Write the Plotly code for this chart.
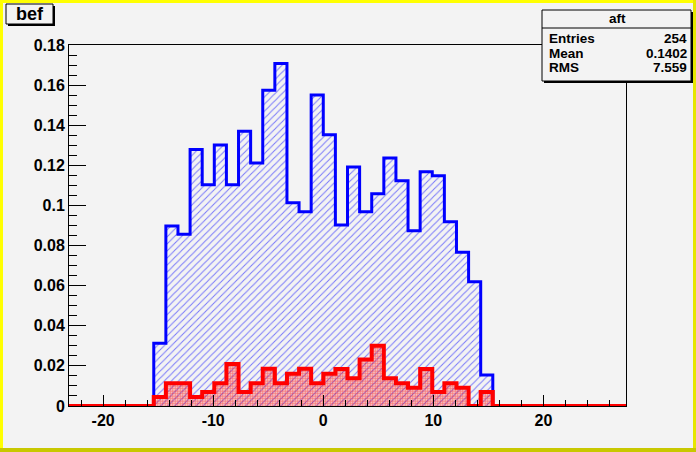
import plotly.graph_objects as go

# ---- data ----
x_min = -23.1
bin_width = 1.1
n_bins = 46
first_filled_bin = 7

bef_values = [0.0313, 0.0897, 0.0856, 0.1279, 0.1103, 0.1302, 0.1103, 0.1370,
              0.1212, 0.1575, 0.1708, 0.1013, 0.0968, 0.1551, 0.1353, 0.0902,
              0.1192, 0.0968, 0.1058, 0.1237, 0.1123, 0.0874, 0.1168, 0.1148,
              0.0919, 0.0766, 0.0620, 0.0154]
aft_values = [0.0045, 0.0113, 0.0113, 0.0045, 0.0070, 0.0113, 0.0209, 0.0070,
              0.0113, 0.0186, 0.0113, 0.0161, 0.0186, 0.0113, 0.0161, 0.0184,
              0.0138, 0.0232, 0.0300, 0.0138, 0.0114, 0.0091, 0.0184, 0.0070,
              0.0114, 0.0091, 0.0000, 0.0070]

x_tickvals = [-20, -10, 0, 10, 20]
x_ticktext = ["-20", "-10", "0", "10", "20"]
y_tickvals = [0, 0.02, 0.04, 0.06, 0.08, 0.10, 0.12, 0.14, 0.16, 0.18]
y_ticktext = ["0", "0.02", "0.04", "0.06", "0.08", "0.1", "0.12", "0.14", "0.16", "0.18"]

stats_title = "aft"
stats_labels = ["Entries", "Mean", "RMS"]
stats_values = ["254", "0.1402", "7.559"]
pad_title = "bef"

# ---- build full histogram contents ----
def full(vals):
    c = [0.0] * n_bins
    for i, v in enumerate(vals):
        c[first_filled_bin + i] = v
    return c

edges = [x_min + i * bin_width for i in range(n_bins + 1)]
bef = full(bef_values)
aft = full(aft_values)

W, H = 696, 452
ML, MR, MT, MB = 69, 70, 45, 46
PW, PH = W - ML - MR, H - MT - MB
BG = "#f3f3f3"


def px(x):
    return (x - ML) / PW


def py(y):
    return (H - MB - y) / PH


fig = go.Figure()
fig.add_trace(go.Scatter(
    x=edges, y=bef + [bef[-1]], mode="lines", line=dict(shape="hv", color="#0000ff", width=3),
    fill="tozeroy", fillcolor="rgba(0,0,0,0)",
    fillpattern=dict(shape="/", size=5, solidity=0.2, fgcolor="#0000ff", bgcolor="rgba(0,0,0,0)"),
    showlegend=False, hoverinfo="skip"))
fig.add_trace(go.Scatter(
    x=edges, y=aft + [aft[-1]], mode="lines", line=dict(shape="hv", color="#ff0000", width=4),
    fill="tozeroy", fillcolor="rgba(0,0,0,0)",
    fillpattern=dict(shape=".", size=2.5, solidity=0.7, fgcolor="#ff0000", bgcolor="rgba(0,0,0,0)"),
    showlegend=False, hoverinfo="skip"))

tickfont = dict(family="Liberation Sans", size=16, color="black", weight="bold")

fig.update_xaxes(range=[edges[0], edges[-1]], showgrid=False, zeroline=False,
                 showline=True, linecolor="black", linewidth=1, mirror=True,
                 tickmode="array", tickvals=x_tickvals, ticktext=x_ticktext,
                 ticks="inside", ticklen=11, tickcolor="black", tickwidth=1,
                 minor=dict(dtick=2, tick0=0, ticks="inside", ticklen=6, tickcolor="black"),
                 tickfont=tickfont, layer="above traces")
fig.update_yaxes(range=[0, 0.18], showgrid=False, zeroline=False,
                 showline=True, linecolor="black", linewidth=1, mirror=True,
                 tickmode="array", tickvals=y_tickvals, ticktext=y_ticktext,
                 ticks="inside", ticklen=17, tickcolor="black", tickwidth=1,
                 minor=dict(dtick=0.005, tick0=0, ticks="inside", ticklen=8, tickcolor="black"),
                 tickfont=tickfont, layer="above traces")

shapes = []
# yellow canvas border
shapes.append(dict(type="rect", xref="paper", yref="paper", x0=px(0), x1=px(W), y0=py(0), y1=py(3),
                   fillcolor="#ffff00", line=dict(width=0), layer="above"))
shapes.append(dict(type="rect", xref="paper", yref="paper", x0=px(0), x1=px(3), y0=py(0), y1=py(H),
                   fillcolor="#ffff00", line=dict(width=0), layer="above"))
shapes.append(dict(type="rect", xref="paper", yref="paper", x0=px(W - 3), x1=px(W), y0=py(0), y1=py(H),
                   fillcolor="#e6e600", line=dict(width=0), layer="above"))
shapes.append(dict(type="rect", xref="paper", yref="paper", x0=px(0), x1=px(W), y0=py(H - 4), y1=py(H),
                   fillcolor="#c8c800", line=dict(width=0), layer="above"))


def shadow_box(x0, y0, x1, y1):
    shapes.append(dict(type="rect", xref="paper", yref="paper", x0=px(x0 + 2), x1=px(x1 + 2),
                       y0=py(y0 + 2), y1=py(y1 + 2), fillcolor="black", line=dict(width=0), layer="above"))
    shapes.append(dict(type="rect", xref="paper", yref="paper", x0=px(x0), x1=px(x1),
                       y0=py(y0), y1=py(y1), fillcolor=BG, line=dict(color="black", width=1), layer="above"))


shadow_box(6, 4, 53, 24)
shadow_box(542, 10, 691, 81)
shapes.append(dict(type="line", xref="paper", yref="paper", x0=px(542), x1=px(691), y0=py(28), y1=py(28),
                   line=dict(color="black", width=1), layer="above"))

annotations = []
annotations.append(dict(text=pad_title, xref="paper", yref="paper", x=px(29.5), y=py(14), showarrow=False,
                        xanchor="center", yanchor="middle",
                        font=dict(family="Liberation Sans", size=18, color="black", weight="bold")))
sfont = dict(family="Liberation Sans", size=13.5, color="black", weight="bold")
annotations.append(dict(text=stats_title, xref="paper", yref="paper", x=px(617), y=py(18.5), showarrow=False,
                        xanchor="center", yanchor="middle", font=sfont))
row_y = [38.5, 53.5, 68]
for lab, val, ry in zip(stats_labels, stats_values, row_y):
    annotations.append(dict(text=lab, xref="paper", yref="paper", x=px(547), y=py(ry), showarrow=False,
                            xanchor="left", yanchor="middle", font=sfont))
    annotations.append(dict(text=val, xref="paper", yref="paper", x=px(689), y=py(ry), showarrow=False,
                            xanchor="right", yanchor="middle", font=sfont))

fig.update_layout(width=W, height=H, margin=dict(l=ML, r=MR, t=MT, b=MB),
                  paper_bgcolor=BG, plot_bgcolor=BG, shapes=shapes, annotations=annotations,
                  showlegend=False)

fig.write_html("out.html", config={"displayModeBar": False},
               post_script="document.body.style.margin='0';document.body.style.padding='0';")
